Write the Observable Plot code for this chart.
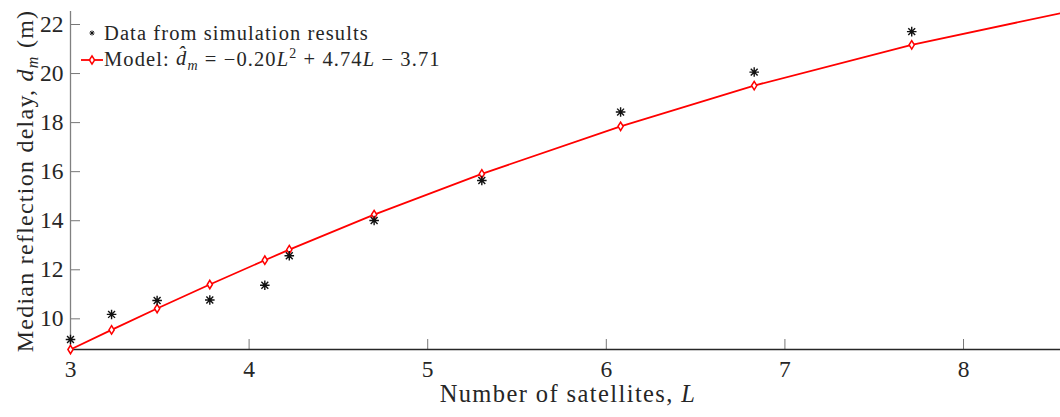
<!DOCTYPE html>
<html><head><meta charset="utf-8">
<script src="https://cdn.jsdelivr.net/npm/d3@7"></script>
<script src="https://cdn.jsdelivr.net/npm/@observablehq/plot@0.6"></script>
<style>
body{margin:0;background:#fff;}
#wrap{position:relative;width:1060px;height:417px;font-family:"Liberation Serif",serif;color:#262626;overflow:hidden;}
.ov{position:absolute;white-space:nowrap;}
#xlabel{left:0;width:1136px;top:380px;text-align:center;font-size:24.5px;letter-spacing:1.4px;}
#ylabel{left:27px;top:181px;font-size:24px;letter-spacing:1.25px;transform:translate(-50%,-50%) rotate(-90deg);}
.leg{font-size:20.5px;letter-spacing:1.1px;display:flex;align-items:center;}
.leg svg{margin-right:1px;}
</style></head><body><div id="wrap"></div>
<script>
// Data
const satellites = [3.00, 3.23, 3.485, 3.78, 4.088, 4.225, 4.70, 5.303, 6.08, 6.828, 7.71];
const simulated  = [9.16, 10.18, 10.75, 10.77, 11.37, 12.57, 14.01, 15.64, 18.43, 20.06, 21.71];
const modelValues = [8.75, 9.55, 10.42, 11.40, 12.39, 12.82, 14.25, 15.91, 17.85, 19.51, 21.17];
const modelLineEnd = {L: 8.543, d: 22.46};
const xTicks = [3, 4, 5, 6, 7, 8];
const yTicks = [10, 12, 14, 16, 18, 20, 22];
const xDomain = [3, 8.543];
const yDomain = [8.75, 22.53];

const simData = satellites.map((L, i) => ({L, d: simulated[i]}));
const modelData = satellites.map((L, i) => ({L, d: modelValues[i]}));
const modelLine = [...modelData, modelLineEnd];

const asterisk8 = {draw(ctx, size) {
  const a = Math.sqrt(size) * 0.6, b = a * 0.72;
  ctx.moveTo(0, -a); ctx.lineTo(0, a);
  ctx.moveTo(-a, 0); ctx.lineTo(a, 0);
  ctx.moveTo(-b, -b); ctx.lineTo(b, b);
  ctx.moveTo(-b, b); ctx.lineTo(b, -b);
}};
const tallDiamond = {draw(ctx, size) {
  const h = Math.sqrt(size) * 0.58, w = h * 0.62;
  ctx.moveTo(0, -h); ctx.lineTo(w, 0); ctx.lineTo(0, h); ctx.lineTo(-w, 0); ctx.closePath();
}};

const font = "Liberation Serif";
const chart = Plot.plot({
  width: 1060, height: 417,
  marginLeft: 70, marginRight: 0, marginTop: 11, marginBottom: 68,
  style: {fontFamily: font, background: "white", overflow: "visible"},
  x: {domain: xDomain},
  y: {domain: yDomain},
  marks: [
    // tick labels
    Plot.axisX(xTicks, {tickSize: 0, tickPadding: 11, fontSize: 23.5, label: null, tickFormat: "d", color: "#262626"}),
    Plot.axisY(yTicks, {tickSize: 0, tickPadding: 7, fontSize: 23.5, label: null, tickFormat: "d", color: "#262626"}),
    // inward ticks
    Plot.axisX(xTicks, {tickSize: 10, text: null, label: null, dy: -10, stroke: "#777"}),
    Plot.axisY(yTicks, {tickSize: 10, text: null, label: null, dx: 10, stroke: "#777"}),
    // axis lines
    Plot.ruleY([yDomain[0]], {stroke: "#262626", strokeWidth: 1.3}),
    Plot.ruleX([xDomain[0]], {stroke: "#808080", strokeWidth: 1.3}),
    // model line
    Plot.line(modelLine, {x: "L", y: "d", stroke: "#ff0000", strokeWidth: 1.8}),
    Plot.dot(modelData, {x: "L", y: "d", symbol: tallDiamond, r: 4.1, stroke: "#ff0000", fill: "white", strokeWidth: 1.5}),
    // simulation data
    Plot.dot(simData, {x: "L", y: "d", symbol: asterisk8, r: 4.5, stroke: "#111", fill: "none", strokeWidth: 1.4})
  ]
});

const wrap = document.getElementById("wrap");
wrap.appendChild(chart);

function addHTML(html) {
  const t = document.createElement("template");
  t.innerHTML = html.trim();
  wrap.appendChild(t.content.firstChild);
}
addHTML(`<div id="xlabel" class="ov">Number of satellites, <i>L</i></div>`);
addHTML(`<div id="ylabel" class="ov">Median reflection delay, <i>d<sub style="font-size:16px">m</sub></i> (m)</div>`);
addHTML(`<div class="ov leg" style="left:81px;top:20px;height:26px;">
  <svg width="22" height="26"><g stroke="#111" stroke-width="1"><path d="M11,10.5V15.5M8.5,13H13.5M9.2,11.2L12.8,14.8M9.2,14.8L12.8,11.2"/></g></svg>
  <span>Data from simulation results</span></div>`);
addHTML(`<div class="ov leg" style="left:81px;top:47px;height:26px;">
  <svg width="22" height="26"><line x1="0" y1="13" x2="22" y2="13" stroke="#ff0000" stroke-width="1.8"/><path d="M11,8.8L13.6,13L11,17.2L8.4,13Z" fill="white" stroke="#ff0000" stroke-width="1.5"/></svg>
  <span>Model: <i>d&#770;<sub style="font-size:14px">m</sub></i> = &minus;0.20<i>L</i><sup style="font-size:14px">2</sup> + 4.74<i>L</i> &minus; 3.71</span></div>`);
</script>
</body></html>
